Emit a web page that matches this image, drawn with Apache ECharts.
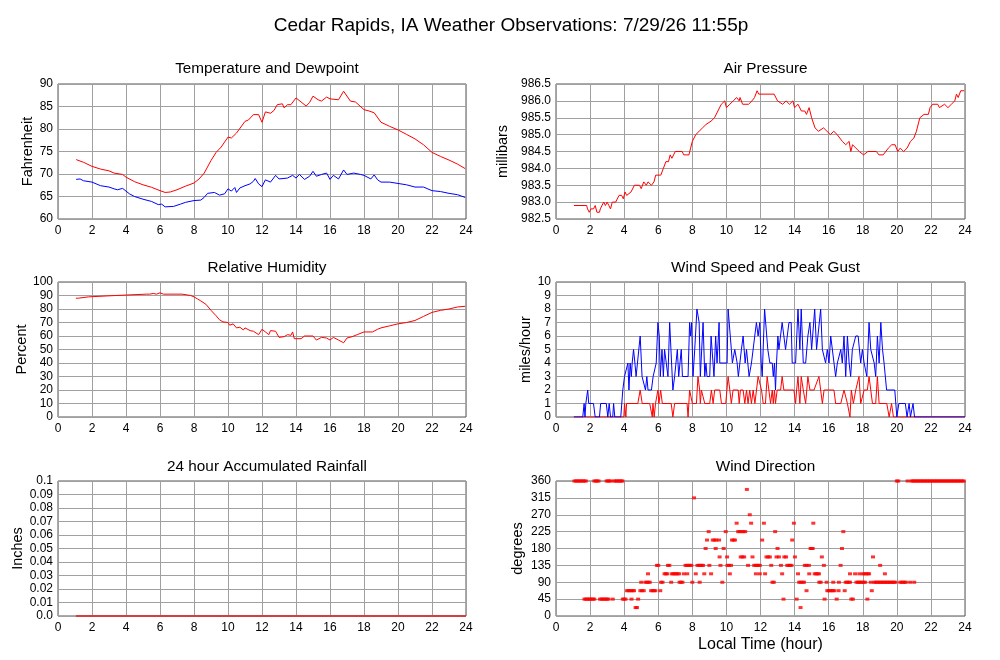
<!DOCTYPE html>
<html><head><meta charset="utf-8">
<script src="https://cdn.jsdelivr.net/npm/echarts@6/dist/echarts.min.js"></script>
<style>html,body{margin:0;padding:0;background:#fff}#c{width:1000px;height:660px}</style>
</head><body><div id="c"></div>
<script>
const hourTicks = [0,2,4,6,8,10,12,14,16,18,20,22,24];
const temperature = [[1.07,73.2],[1.5,72.6],[2,71.7],[2.5,71.1],[3,70.7],[3.3,70.2],[3.8,69.9],[4,69.3],[4.5,68.3],[5,67.6],[5.5,67.05],[6,66.3],[6.3,65.9],[6.6,66.0],[7,66.5],[7.5,67.3],[8,68.0],[8.3,68.9],[8.6,70.2],[9,73.0],[9.3,74.8],[9.6,76.0],[10,78.2],[10.2,78.0],[10.5,79.1],[11,81.7],[11.2,82.0],[11.5,83.2],[11.8,83.2],[12,81.5],[12.2,83.8],[12.5,83.5],[12.7,84.1],[12.9,85.4],[13.2,85.6],[13.3,84.7],[13.5,85.4],[13.7,85.4],[14,86.9],[14.3,86.0],[14.6,85.1],[14.8,85.9],[15,87.3],[15.3,86.5],[15.5,86.2],[15.8,87.1],[16,86.7],[16.5,86.5],[16.8,88.4],[17.2,86.2],[17.5,86.0],[18,84.3],[18.3,84.0],[18.6,83.6],[19,81.5],[19.5,80.6],[20,79.8],[20.5,78.8],[21,77.8],[21.5,76.5],[22,74.8],[22.5,73.9],[23,73.1],[23.5,72.2],[23.95,71.2]];
const dewpoint = [[1.07,68.8],[1.3,68.9],[1.5,68.5],[2,68.2],[2.5,67.4],[3,67.1],[3.3,66.7],[3.5,66.5],[3.8,66.8],[4.2,65.6],[4.5,65.0],[5,64.4],[5.5,63.9],[5.9,63.2],[6.1,63.3],[6.3,62.7],[6.8,62.8],[7.2,63.3],[7.5,63.7],[8,64.1],[8.4,64.2],[8.6,64.8],[8.8,65.7],[9,65.8],[9.2,65.9],[9.5,65.3],[9.8,65.6],[10,66.7],[10.2,66.2],[10.4,67.0],[10.5,65.9],[10.7,66.9],[11,67.4],[11.3,67.8],[11.5,68.4],[11.6,69.0],[11.8,67.8],[12,67.2],[12.2,68.7],[12.5,68.2],[12.8,69.7],[13,68.9],[13.5,69.1],[13.8,69.7],[14,69.1],[14.2,69.9],[14.5,68.8],[14.8,69.5],[15,70.6],[15.2,69.5],[15.5,69.9],[15.8,70.2],[16,68.8],[16.2,69.7],[16.5,68.9],[16.8,70.9],[17,69.9],[17.4,70.2],[17.8,69.9],[18,69.7],[18.4,68.9],[18.6,69.8],[18.8,68.7],[19,68.2],[19.5,68.2],[20,67.9],[20.5,67.6],[21,67.1],[21.5,67.1],[22,66.3],[22.5,66.1],[23,65.7],[23.5,65.4],[23.95,64.8]];
const pressure = [[1.05,982.9],[1.8,982.9],[1.85,982.8],[1.95,982.7],[2.05,982.8],[2.2,982.8],[2.3,982.9],[2.4,982.7],[2.55,982.7],[2.6,982.8],[2.7,982.8],[2.8,983.0],[2.9,982.9],[3.0,983.0],[3.1,982.9],[3.2,982.8],[3.3,983.0],[3.5,983.0],[3.7,983.2],[3.85,983.2],[3.95,983.1],[4.05,983.3],[4.15,983.2],[4.4,983.3],[4.6,983.5],[4.9,983.5],[5.0,983.4],[5.15,983.6],[5.3,983.5],[5.4,983.6],[5.6,983.5],[5.75,983.6],[5.85,983.8],[6.15,983.8],[6.3,984.0],[6.45,984.2],[6.6,984.2],[6.7,984.4],[6.8,984.3],[7.0,984.5],[7.4,984.5],[7.5,984.4],[7.8,984.4],[7.9,984.6],[8.0,984.8],[8.2,985.0],[8.4,985.1],[8.6,985.2],[8.8,985.3],[9.1,985.4],[9.3,985.5],[9.5,985.7],[9.7,985.9],[9.9,986.0],[10.0,985.8],[10.2,985.9],[10.4,986.0],[10.6,986.1],[10.75,986.0],[10.8,986.1],[10.95,985.9],[11.3,985.9],[11.5,986.0],[11.65,986.1],[11.8,986.3],[11.9,986.2],[12.8,986.2],[13.0,986.0],[13.3,985.9],[13.5,986.0],[13.7,985.9],[13.9,986.0],[14.0,985.8],[14.2,985.9],[14.4,985.7],[14.6,985.7],[14.7,985.6],[14.85,985.8],[15.0,985.5],[15.2,985.2],[15.4,985.1],[15.7,985.2],[15.9,985.1],[16.1,985.0],[16.3,985.1],[16.5,985.0],[16.8,984.8],[17.0,984.7],[17.2,984.8],[17.3,984.5],[17.4,984.7],[17.6,984.6],[17.8,984.5],[18.05,984.4],[18.3,984.5],[18.8,984.5],[18.95,984.4],[19.2,984.4],[19.5,984.6],[19.7,984.7],[19.9,984.7],[20.05,984.5],[20.2,984.6],[20.4,984.5],[20.6,984.6],[20.8,984.8],[21.0,984.9],[21.15,985.1],[21.35,985.5],[21.6,985.6],[21.85,985.6],[21.95,985.8],[22.1,985.9],[22.4,985.9],[22.5,985.8],[22.8,985.9],[23.0,985.8],[23.2,985.9],[23.4,986.0],[23.5,986.2],[23.6,986.1],[23.75,986.3],[23.95,986.3]];
const humidity = [[1.05,88],[1.2,88],[1.3,89],[1.8,89],[1.9,90],[3.4,90],[3.5,91],[5.2,91],[5.3,92],[5.4,91],[5.6,91.5],[5.8,91],[6.0,92],[6.2,91],[7.3,91],[7.4,90],[7.8,90],[8.0,89],[8.2,87.5],[8.4,86],[8.7,83.5],[9.0,79],[9.3,75],[9.5,72],[9.7,70.5],[10.0,70],[10.1,68],[10.3,69],[10.5,66],[10.7,66.5],[10.9,64.5],[11.0,66],[11.3,64],[11.5,63.5],[11.6,64.5],[11.8,61],[12.0,65],[12.2,63],[12.4,61],[12.5,64],[12.8,63.5],[13.0,59],[13.3,59.5],[13.5,61],[13.7,60.5],[13.8,63],[13.9,58],[14.3,58],[14.5,60],[15.0,60],[15.2,57],[15.5,59],[15.8,58.5],[16.0,57],[16.2,59],[16.5,57],[16.6,56],[16.8,55],[17.0,58.5],[17.3,59.5],[17.6,61],[18.0,63],[18.5,63],[18.8,65],[19.0,66],[19.5,67.5],[20.0,69],[20.5,70],[21.0,71.5],[21.5,74.5],[22.0,77.5],[22.5,79],[23.0,80],[23.5,81.5],[23.95,82]];
const windGust = [[1.05,0],[1.57,0],[1.65,1],[1.7,0],[1.75,1],[1.86,2],[1.92,1],[2.0,1],[2.2,1],[2.3,0],[2.55,0],[2.62,1],[2.95,1],[3.04,0],[3.12,1],[3.2,0],[3.33,0],[3.38,1],[3.45,0],[3.8,0],[3.92,2],[4.02,3],[4.12,3],[4.22,4],[4.28,2],[4.35,4],[4.42,3],[4.47,4],[4.55,5],[4.63,4],[4.7,3],[4.8,3],[4.94,6],[5.05,3],[5.15,3],[5.25,2],[5.33,3],[5.4,2],[5.6,2],[5.7,3],[5.8,3],[5.88,4],[5.98,7],[6.06,6],[6.12,3],[6.22,5],[6.3,3],[6.37,5],[6.47,4],[6.57,3],[6.67,7],[6.82,3],[6.86,2],[6.96,3],[7.06,3],[7.12,5],[7.2,3],[7.35,5],[7.42,3],[7.75,3],[7.84,7],[7.9,6],[7.96,7],[8.04,3],[8.14,5],[8.27,8],[8.4,7],[8.47,3],[8.63,7],[8.73,3],[8.8,4],[8.86,3],[9.02,3],[9.1,6],[9.2,6],[9.27,3],[9.37,6],[9.45,4],[9.57,7],[9.61,4],[10.04,4],[10.1,8],[10.2,8],[10.29,5],[10.35,4],[10.49,5],[10.63,4],[10.7,3],[10.88,5],[10.98,6],[11.1,4],[11.18,5],[11.33,3],[11.47,4],[11.76,7],[11.86,6],[11.96,7],[12.04,4],[12.1,3],[12.24,8],[12.35,8],[12.43,5],[12.55,4],[12.69,4],[12.75,3],[12.82,4],[12.88,2],[12.94,4],[13.02,6],[13.08,5],[13.27,7],[13.37,7],[13.47,5],[13.57,6],[13.67,7],[13.8,7],[13.86,4],[14.06,4],[14.2,8],[14.31,5],[14.39,8],[14.51,4],[14.65,4],[14.78,6],[14.9,7],[15.0,5],[15.1,5],[15.18,8],[15.29,5],[15.37,6],[15.53,8],[15.63,5],[15.73,5],[15.82,4],[15.92,5],[16.02,4],[16.12,6],[16.41,3],[16.51,4],[16.61,4],[16.71,5],[16.8,4],[16.9,6],[17.0,3],[17.1,6],[17.2,4],[17.29,3],[17.39,5],[17.49,5],[17.59,6],[17.73,6],[17.88,4],[17.98,5],[18.08,4],[18.24,3],[18.37,7],[18.47,5],[18.67,4],[18.76,3],[18.86,6],[18.96,4],[19.06,7],[19.16,5],[19.25,4],[19.4,2],[19.88,2],[20.0,0],[20.12,1],[20.5,1],[20.6,0],[20.72,1],[20.8,0],[20.95,1],[21.04,0],[24,0]];
const windSpeed = [[1.05,0],[3.98,0],[4.02,1],[4.1,0],[4.14,1],[4.8,1],[4.94,2],[5.06,1],[5.5,1],[5.65,0],[5.69,1],[5.76,0],[5.84,1],[5.98,2],[6.04,1],[6.14,2],[6.24,1],[6.76,1],[6.86,0],[6.96,1],[7.69,1],[7.75,0],[7.84,2],[8.0,1],[8.24,1],[8.33,3],[8.43,2],[8.47,1],[8.53,2],[8.63,2],[8.73,1],[9.02,1],[9.12,2],[9.22,1],[9.31,2],[9.61,2],[9.71,1],[9.96,1],[10.1,3],[10.2,2],[10.29,1],[10.39,2],[10.69,2],[10.75,1],[10.82,2],[10.98,2],[11.08,1],[11.18,2],[11.27,1],[11.37,2],[11.47,1],[11.57,2],[11.67,1],[11.86,3],[11.96,3],[12.06,2],[12.16,1],[12.29,1],[12.39,3],[12.49,2],[12.59,1],[12.69,2],[12.75,1],[12.82,2],[12.88,1],[12.98,2],[13.18,2],[13.27,3],[13.37,2],[13.96,2],[14.06,1],[14.12,2],[14.2,3],[14.25,2],[14.31,1],[14.39,3],[14.51,2],[14.55,2],[14.65,1],[14.78,3],[14.9,2],[15.14,2],[15.43,3],[15.53,2],[15.63,1],[15.73,2],[16.31,2],[16.41,1],[16.71,1],[16.9,2],[17.1,1],[17.25,0],[17.33,2],[17.45,1],[17.59,2],[17.78,3],[17.88,1],[17.98,1],[18.08,2],[18.27,2],[18.37,3],[18.47,2],[18.57,1],[18.76,1],[18.86,3],[18.96,1],[19.25,1],[19.41,1],[19.55,0],[19.69,1],[19.8,0],[24,0]];
const rainfall = [[1.05,0],[24,0]];
const windDir = [
[1.08,360],[1.17,360],[1.25,360],[1.33,360],[1.42,360],[1.5,360],[1.58,360],[1.67,360],[1.75,360],[2.25,360],[2.33,360],[2.42,360],[2.5,360],[2.97,360],[3.05,360],[3.13,360],[3.22,360],[3.42,360],[3.5,360],[3.58,360],[3.67,360],[3.75,360],[3.83,360],[3.9,360],
[20.0,360],[20.08,360],[20.63,360],[20.85,360],[20.93,360],[21.02,360],[21.1,360],[21.18,360],[21.27,360],[21.35,360],[21.43,360],[21.52,360],[21.6,360],[21.68,360],[21.77,360],[21.85,360],[21.93,360],[22.02,360],[22.1,360],[22.18,360],[22.27,360],[22.35,360],[22.43,360],[22.52,360],[22.6,360],[22.68,360],[22.77,360],[22.85,360],[22.93,360],[23.02,360],[23.1,360],[23.18,360],[23.27,360],[23.35,360],[23.43,360],[23.52,360],[23.6,360],[23.68,360],[23.77,360],[23.85,360],[23.93,360],
[1.67,45],[1.75,45],[1.83,45],[1.92,45],[2.0,45],[2.08,45],[2.17,45],[2.25,45],[2.58,45],[2.67,45],[2.75,45],[2.83,45],[2.92,45],[3.0,45],[3.08,45],[3.33,45],[3.92,45],[4.0,45],[4.08,45],[4.43,45],[4.82,45],[13.35,45],[14.12,45],[15.76,45],[16.47,45],[17.33,45],[17.42,45],[18.27,45],
[4.67,22.5],[4.75,22.5],[14.35,22.5],
[4.17,67.5],[4.25,67.5],[4.33,67.5],[4.42,67.5],[4.5,67.5],[4.58,67.5],[4.95,67.5],[5.05,67.5],[5.15,67.5],[5.58,67.5],[5.67,67.5],[5.75,67.5],[5.83,67.5],[6.12,67.5],[14.7,67.5],[15.92,67.5],[16.0,67.5],[16.08,67.5],[16.17,67.5],[16.25,67.5],[16.33,67.5],[16.58,67.5],[16.94,67.5],[18.53,67.5],
[5.0,90],[5.25,90],[5.33,90],[5.42,90],[5.5,90],[6.17,90],[6.25,90],[6.76,90],[7.25,90],[7.33,90],[7.42,90],[8.0,90],[8.43,90],[9.76,90],[12.7,90],[12.78,90],[14.27,90],[14.35,90],[14.47,90],[14.55,90],[15.45,90],[15.53,90],[15.88,90],[16.27,90],[16.6,90],[17.0,90],[17.08,90],[17.17,90],[17.25,90],[17.63,90],[17.72,90],[17.8,90],[17.88,90],[17.97,90],[18.05,90],[18.14,90],[18.47,90],[18.67,90],[18.75,90],[18.83,90],[18.92,90],[19.0,90],[19.08,90],[19.17,90],[19.25,90],[19.33,90],[19.42,90],[19.5,90],[19.58,90],[19.67,90],[19.75,90],[19.83,90],[19.92,90],[20.2,90],[20.28,90],[20.37,90],[20.45,90],[20.53,90],[20.78,90],[21.02,90],
[5.4,112.5],[6.37,112.5],[6.45,112.5],[6.53,112.5],[6.8,112.5],[6.88,112.5],[6.97,112.5],[7.05,112.5],[7.13,112.5],[7.22,112.5],[7.5,112.5],[7.7,112.5],[8.2,112.5],[8.7,112.5],[9.1,112.5],[10.2,112.5],[11.73,112.5],[11.96,112.5],[12.27,112.5],[13.27,112.5],[14.2,112.5],[14.86,112.5],[15.18,112.5],[15.27,112.5],[15.35,112.5],[15.43,112.5],[17.25,112.5],[17.55,112.5],[17.8,112.5],[18.0,112.5],[18.1,112.5],[18.2,112.5],[18.3,112.5],[18.37,112.5],[19.3,112.5],
[5.92,135],[6.0,135],[6.57,135],[6.65,135],[7.6,135],[7.68,135],[7.77,135],[7.85,135],[7.94,135],[8.3,135],[8.38,135],[8.47,135],[8.55,135],[8.63,135],[9.0,135],[9.65,135],[10.06,135],[10.15,135],[10.27,135],[11.27,135],[11.63,135],[11.72,135],[11.8,135],[11.88,135],[11.96,135],[12.63,135],[13.2,135],[13.57,135],[13.65,135],[13.73,135],[13.82,135],[14.6,135],[14.7,135],[14.84,135],[15.72,135],[16.7,135],[19.02,135],
[9.6,157.5],[10.04,157.5],[10.84,157.5],[10.94,157.5],[11.04,157.5],[11.53,157.5],[12.35,157.5],[12.45,157.5],[12.55,157.5],[12.94,157.5],[13.08,157.5],[13.4,157.5],[13.5,157.5],[14.02,157.5],[15.6,157.5],[18.6,157.5],
[8.78,180],[9.37,180],[9.84,180],[13.0,180],[14.94,180],[15.0,180],[15.06,180],[16.78,180],
[8.86,202.5],[9.2,202.5],[9.3,202.5],[9.4,202.5],[9.57,202.5],[10.33,202.5],[10.42,202.5],[10.5,202.5],[12.1,202.5],[13.86,202.5],
[8.96,225],[9.96,225],[10.69,225],[10.78,225],[10.9,225],[11.0,225],[11.1,225],[12.86,225],[16.86,225],
[10.6,247.5],[11.45,247.5],[12.2,247.5],[13.96,247.5],[15.1,247.5],
[11.37,270],[8.1,315],[11.2,337.5]
];

const FONT = '"Liberation Sans", Arial, Helvetica, sans-serif';
const grids = [
  {left:58, top:84, width:408, height:135},
  {left:556, top:84, width:409, height:135},
  {left:58, top:282, width:408, height:135},
  {left:556, top:282, width:409, height:135},
  {left:58, top:481, width:408, height:135},
  {left:556, top:481, width:409, height:135}
].map(g => Object.assign({show:true, borderColor:'#555', borderWidth:1, backgroundColor:'transparent'}, g));

const panelTitles = ['Temperature and Dewpoint','Air Pressure','Relative Humidity','Wind Speed and Peak Gust','24 hour Accumulated Rainfall','Wind Direction'];
const titleY = [56,56,255,255,454,454];
const titles = [{text:'Cedar Rapids, IA Weather Observations: 7/29/26 11:55p', left:506, top:11, textAlign:'center', textStyle:{fontFamily:FONT, fontSize:19, fontWeight:'normal', color:'#000'}}];
panelTitles.forEach((t,i)=>{
  const g = grids[i];
  titles.push({text:t, left:g.left+g.width/2, top:titleY[i], textAlign:'center', textStyle:{fontFamily:FONT, fontSize:15.3, fontWeight:'normal', color:'#000'}});
});

const splitStyle = {show:true, lineStyle:{color:'#a0a0a0', width:1}};
const xAxes = grids.map((g,i)=>({
  type:'value', gridIndex:i, min:0, max:24, interval:2,
  axisLine:{show:false}, axisTick:{show:false},
  axisLabel:{fontFamily:FONT, fontSize:12, color:'#000', margin:6},
  splitLine:splitStyle,
  name: i===5 ? 'Local Time (hour)' : '', nameLocation:'middle', nameGap:21,
  nameTextStyle:{fontFamily:FONT, fontSize:16, color:'#000'}
}));
const yDefs = [
  {min:60, max:90, interval:5, name:'Fahrenheit', gap:22},
  {min:982.5, max:986.5, interval:0.5, name:'millibars', gap:46, fmt:v=>v.toFixed(1)},
  {min:0, max:100, interval:10, name:'Percent', gap:29},
  {min:0, max:10, interval:1, name:'miles/hour', gap:21},
  {min:0, max:0.1, interval:0.01, name:'Inches', gap:33, fmt:v=>{const k=Math.round(v*100); return (k%10===0)?(k/100).toFixed(1):(k/100).toFixed(2);}},
  {min:0, max:360, interval:45, name:'degrees', gap:31}
];
const yAxes = yDefs.map((d,i)=>({
  type:'value', gridIndex:i, min:d.min, max:d.max, interval:d.interval,
  axisLine:{show:false}, axisTick:{show:false},
  axisLabel:{fontFamily:FONT, fontSize:12, color:'#000', margin:5, formatter:d.fmt},
  splitLine:splitStyle,
  name:d.name, nameLocation:'middle', nameGap:d.gap, nameRotate:90,
  nameTextStyle:{fontFamily:FONT, fontSize:14.5, color:'#000'}
}));

function line(data, idx, color, w){
  return {type:'line', xAxisIndex:idx, yAxisIndex:idx, data:data, showSymbol:false, symbol:'none',
    lineStyle:{color:color, width:w||1}, itemStyle:{color:color}, animation:false, z:3};
}
const series = [
  line(temperature,0,'#ff0000'),
  line(dewpoint,0,'#0000ff'),
  line(pressure,1,'#ff0000'),
  line(humidity,2,'#ff0000'),
  line(windSpeed,3,'#ff0000'),
  line(windGust,3,'#0000ff'),
  line(rainfall,4,'#d04040',2),
  {type:'scatter', xAxisIndex:5, yAxisIndex:5, data:windDir, symbol:'rect', symbolSize:[4,3],
   itemStyle:{color:'#ff0000'}, animation:false, z:3}
];

const chart = echarts.init(document.getElementById('c'), null, {renderer:'canvas'});
chart.setOption({backgroundColor:'#fff', animation:false, title:titles, grid:grids, xAxis:xAxes, yAxis:yAxes, series:series});
</script></body></html>
